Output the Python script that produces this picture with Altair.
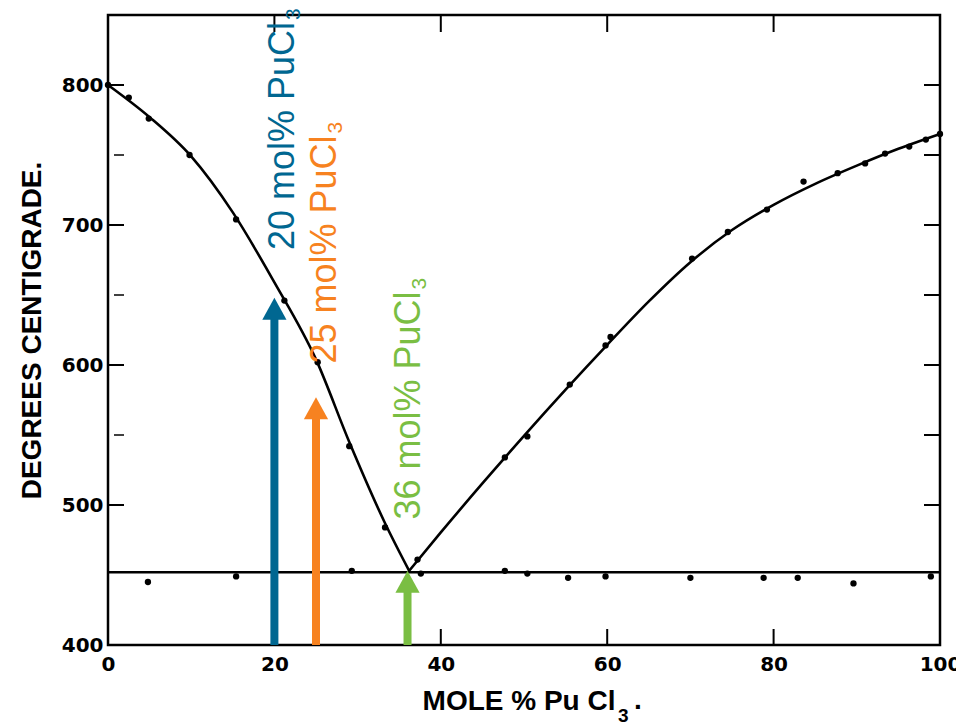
import altair as alt
import pandas as pd

# Liquidus branches and eutectic isotherm of the NaCl-PuCl3 system
# (mole % PuCl3, degrees C)
left_x = [0, 5, 10, 15, 20, 25, 29, 33.3, 36.2]
left_t = [800, 777, 749, 709, 659, 604, 545, 487, 453]
right_x = [36.2, 40, 45, 50, 55, 60, 65, 70, 75, 80, 85, 90, 95, 100]
right_t = [453, 480.4, 515.4, 549.4, 582.4, 614.4, 645.4, 673.4, 696.4, 714.4, 729.4, 742.4, 754.4, 765]
eut_x = [0, 100]
eut_t = [452, 452]

# Measured thermal-arrest points
liq_pts_x = [0, 2.5, 4.9, 9.8, 15.4, 21.2, 25.2, 29.0, 33.3, 37.2, 47.7, 50.4,
             55.5, 59.8, 60.4, 70.2, 74.5, 79.2, 83.6, 87.7, 91.0, 93.4, 96.3, 98.3, 100]
liq_pts_t = [800, 791, 776, 750, 704, 646, 602, 542, 484, 461, 534, 549,
             586, 614, 620, 676, 695, 711, 731, 737, 744, 751, 756, 761, 765]
eut_pts_x = [4.8, 15.4, 29.3, 37.6, 47.7, 50.4, 55.3, 59.8, 70.0, 78.8, 82.9, 89.6, 98.9]
eut_pts_t = [445, 449, 453, 451, 453, 451, 448, 449, 448, 448, 448, 444, 449]

# Highlighted compositions
mark_keys = ["20", "25", "36"]
mark_mol = [20, 25, 36]
mark_tip = [648, 577, 453]
mark_text = ["20 mol% PuCl", "25 mol% PuCl", "36 mol% PuCl"]
label_x = [22.4, 27.4, 37.5]
label_top = [845, 764, 652.5]
mark_colors = ["#006791", "#F78220", "#7ABE43"]

# Axis ticks and labels
x_labels = [0, 20, 40, 60, 80, 100]
y_labels = [400, 500, 600, 700, 800]
left_major = [500, 600, 700, 800]
left_minor = [550, 650, 750]
right_ticks = [500, 550, 600, 650, 700, 750, 800]
top_ticks = [20, 40, 60, 80]
bottom_ticks = [20, 40, 60, 80]

W, H = 832, 630

curve_df = pd.DataFrame({
    "x": left_x + right_x + eut_x,
    "t": left_t + right_t + eut_t,
    "branch": ["left"] * len(left_x) + ["right"] * len(right_x) + ["eutectic"] * len(eut_x),
})
pts_df = pd.DataFrame({"x": liq_pts_x + eut_pts_x, "t": liq_pts_t + eut_pts_t})
arrow_df = pd.DataFrame({"key": mark_keys, "x": mark_mol, "t": mark_tip,
                         "base": [400] * len(mark_keys)})
label_df = pd.DataFrame({"key": mark_keys, "x": label_x, "t": label_top,
                         "text": mark_text, "sub": ["3"] * len(mark_keys)})

x_scale = alt.Scale(domain=[0, 100], nice=False, zero=False)
y_scale = alt.Scale(domain=[400, 850], nice=False, zero=False)
color_scale = alt.Scale(domain=mark_keys, range=mark_colors)

x_axis = alt.Axis(values=x_labels, ticks=False, domain=False, grid=False,
                  labelFont="DejaVu Sans", labelFontWeight="bold", labelFontSize=20,
                  labelColor="black", labelPadding=9, labelFlush=False,
                  title="MOLE % Pu Cl", titleFont="Liberation Sans", titleFontSize=28,
                  titleFontWeight="bold", titleColor="black", titleX=507, titleY=64,
                  titleAlign="right", titleBaseline="alphabetic")
y_axis = alt.Axis(values=y_labels, ticks=False, domain=False, grid=False,
                  labelFont="DejaVu Sans", labelFontWeight="bold", labelFontSize=20,
                  labelColor="black", labelPadding=5, labelFlush=False,
                  title="DEGREES CENTIGRADE.", titleFont="Liberation Sans", titleFontSize=28,
                  titleFontWeight="bold", titleColor="black", titleAngle=270,
                  titleX=-68, titleY=315, titleAlign="center", titleBaseline="alphabetic")

X = alt.X("x:Q", scale=x_scale, axis=x_axis)
Y = alt.Y("t:Q", scale=y_scale, axis=y_axis)

curves = alt.Chart(curve_df).mark_line(color="black", strokeWidth=2.6, interpolate="monotone").encode(
    x=X, y=Y, detail="branch:N")
dots = alt.Chart(pts_df).mark_circle(color="black", size=40, opacity=1).encode(x=X, y=Y)

left_tk = alt.Chart(pd.DataFrame({"t": left_major})).mark_rule(color="black", strokeWidth=2).encode(
    y=Y, x=alt.value(0), x2=alt.value(16))
left_tk_minor = alt.Chart(pd.DataFrame({"t": left_minor})).mark_rule(color="black", strokeWidth=1.5).encode(
    y=Y, x=alt.value(6), x2=alt.value(16))
right_tk = alt.Chart(pd.DataFrame({"t": right_ticks})).mark_rule(color="black", strokeWidth=2).encode(
    y=Y, x=alt.value(W - 16), x2=alt.value(W))
top_tk = alt.Chart(pd.DataFrame({"x": top_ticks})).mark_rule(color="black", strokeWidth=2).encode(
    x=X, y=alt.value(0), y2=alt.value(17))
bottom_tk = alt.Chart(pd.DataFrame({"x": bottom_ticks})).mark_rule(color="black", strokeWidth=2).encode(
    x=X, y=alt.value(H - 16), y2=alt.value(H))

color = alt.Color("key:N", scale=color_scale, legend=None)
shafts = alt.Chart(arrow_df).mark_rule(strokeWidth=8, y2Offset=12).encode(
    x=X, y=alt.Y("base:Q", scale=y_scale, axis=y_axis), y2="t:Q", color=color)
heads = alt.Chart(arrow_df).mark_point(shape="M0,0L-1.1,2L1.1,2Z", size=484, filled=True,
                                       opacity=1, strokeWidth=0).encode(x=X, y=Y, color=color)

labels = alt.Chart(label_df).mark_text(angle=270, align="right", baseline="alphabetic",
                                       font="Liberation Sans", fontSize=36).encode(
    x=X, y=Y, text="text:N", color=color)
labels_sub = alt.Chart(label_df).mark_text(angle=270, align="left", baseline="alphabetic",
                                           font="Liberation Sans", fontSize=21, dx=2, dy=6).encode(
    x=X, y=Y, text="sub:N", color=color)

one = pd.DataFrame({"s": ["3"], "p": ["."]})
title_sub = alt.Chart(one).mark_text(align="left", baseline="alphabetic", font="Liberation Sans",
                                     fontSize=19, fontWeight="bold", color="black").encode(
    x=alt.value(510), y=alt.value(707), text="s:N")
title_dot = alt.Chart(one).mark_text(align="left", baseline="alphabetic", font="Liberation Sans",
                                     fontSize=28, fontWeight="bold", color="black").encode(
    x=alt.value(526), y=alt.value(694), text="p:N")

chart = alt.layer(
    curves, dots, left_tk, left_tk_minor, right_tk, top_tk, bottom_tk,
    shafts, heads, labels, labels_sub, title_sub, title_dot
).properties(
    width=W, height=H,
    padding={"left": 108, "top": 15, "right": 16, "bottom": 80},
    autosize=alt.AutoSizeParams(type="none"),
    background="white",
).configure_view(stroke="black", strokeWidth=2.5)

chart.save("out.html", embed_options={"renderer": "svg", "actions": False})
